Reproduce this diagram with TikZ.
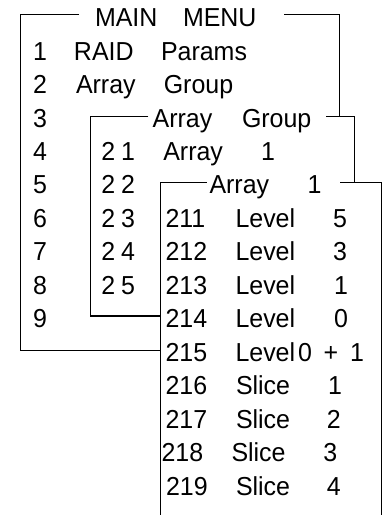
\documentclass[tikz,border=0pt]{standalone}
\usepackage{fontspec}
\setmainfont[FakeStretch=0.96]{Liberation Sans}
\begin{document}
\begin{tikzpicture}[x=1pt,y=-1pt,
  declare function={b(\k)=26.7+33.45*\k;},
  frame/.style={line width=1.3pt},
  t/.style={inner sep=0pt, outer sep=0pt, anchor=base west, font=\fontsize{26}{26}\selectfont},
  c/.style={t, anchor=base}]
\useasboundingbox (0,0) rectangle (388,515);

% ---------- MAIN MENU ----------
\node[t] (mainA) at (95,{b(0)}) {MAIN};
\node[t] (mainB) at (183,{b(0)}) {MENU};
\foreach \k in {1,...,9} \node[c] (m\k) at (40,{b(\k)}) {\k};
\node[t] (raid)   at (74,{b(1)})    {RAID};
\node[t] (params) at (161,{b(1)})   {Params};
\node[t] (arr2)   at (76,{b(2)})    {Array};
\node[t] (grp2)   at (163.8,{b(2)}) {Group};

% ---------- Array Group ----------
\node[t] (agA) at (152.7,{b(3)}) {Array};
\node[t] (agB) at (242,{b(3)})   {Group};
\foreach \k in {1,...,5} {
  \node[c] (g\k a) at (108.3,{b(3+\k)}) {2};
  \node[c] (g\k b) at (128,{b(3+\k)})   {\k};
}
\node[t] (ag1w) at (163.3,{b(4)}) {Array};
\node[c] (ag1n) at (268,{b(4)})   {1};

% ---------- Array 1 ----------
\node[t] (a1A) at (209.5,{b(5)}) {Array};
\node[c] (a1B) at (314.5,{b(5)}) {1};
\foreach \k/\n/\nx/\w/\wx/\v/\vx in {
  6/211/165.5/Level/235.5/5/340,
  7/212/165.5/Level/235.5/3/340,
  8/213/165.5/Level/235.5/1/341,
  9/214/165.5/Level/235.5/0/341,
  11/216/165.5/Slice/236/1/335,
  12/217/165.5/Slice/236/2/333.7,
  13/218/161.5/Slice/231.5/3/330.3,
  14/219/166/Slice/236/4/333.8} {
  \node[t] (n\n) at (\nx,{b(\k)}) {\n};
  \node[t] (w\n) at (\wx,{b(\k)}) {\w};
  \node[c] (v\n) at (\vx,{b(\k)}) {\v};
}
\node[t] (n215)  at (165.5,{b(10)}) {215};
\node[t] (w215)  at (235.5,{b(10)}) {Level};
\node[c] (v215a) at (305,{b(10)})   {0};
\node[c] (v215b) at (331,{b(10)})   {+};
\node[c] (v215c) at (357,{b(10)})   {1};

% ---------- frames ----------
\coordinate (oTLe) at (79,14.3);
\coordinate (oTL)  at (20.7,14.3);
\coordinate (oBL)  at (20.7,350.7);
\coordinate (oBR)  at (160.7,350.7);
\coordinate (oTRs) at (284,14.3);
\coordinate (oTR)  at (339.7,14.3);
\coordinate (oRE)  at (339.7,116.7);

\coordinate (gTLe) at (148.3,116.7);
\coordinate (gTL)  at (90.7,116.7);
\coordinate (gBL)  at (90.7,316);
\coordinate (gBR)  at (160.7,316);
\coordinate (gTRs) at (326,116.7);
\coordinate (gTR)  at (354.7,116.7);
\coordinate (gRE)  at (354.7,182.7);

\coordinate (aTLe) at (206.7,182.7);
\coordinate (aTL)  at (160.7,182.7);
\coordinate (aBL)  at (160.7,515);
\coordinate (aTRs) at (340,182.7);
\coordinate (aTR)  at (381.7,182.7);
\coordinate (aBR)  at (381.7,515);

\draw[frame] (oTLe) -- (oTL) -- (oBL) -- (oBR);
\draw[frame] (oTRs) -- (oTR) -- (oRE);
\draw[frame] (gTLe) -- (gTL) -- (gBL) -- (gBR);
\draw[frame] (gTRs) -- (gTR) -- (gRE);
\draw[frame] (aTLe) -- (aTL) -- (aBL);
\draw[frame] (aTRs) -- (aTR) -- (aBR);
\end{tikzpicture}
\end{document}
